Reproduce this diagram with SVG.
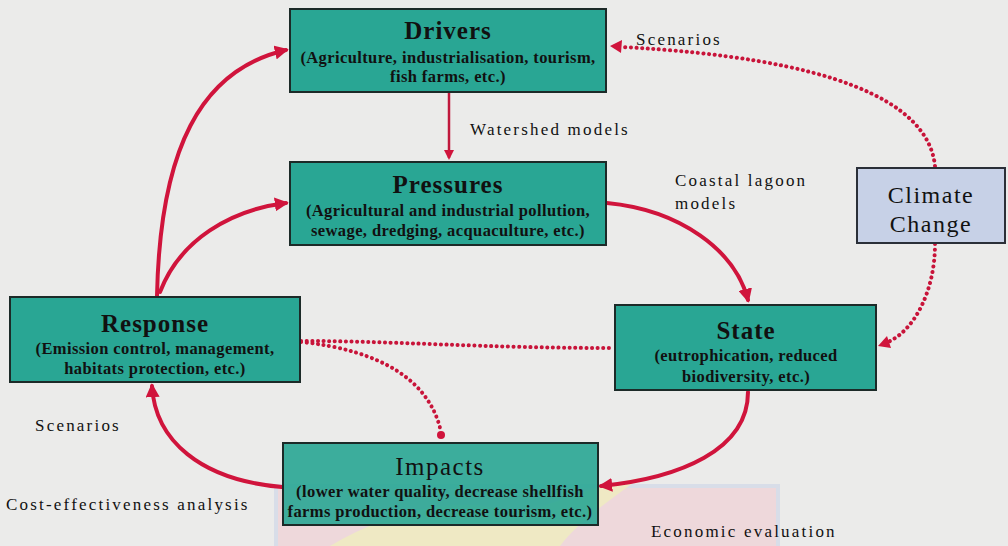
<svg xmlns="http://www.w3.org/2000/svg" width="1008" height="546" viewBox="0 0 1008 546">
  <defs>
    <style>
      .box { fill: #29a694; stroke: #1c2a28; stroke-width: 2; }
      .cc { fill: #c7d1e7; stroke: #2a2f38; stroke-width: 2; }
      text { font-family: "Liberation Serif", "Times New Roman", "DejaVu Serif", serif; }
      .title { font-weight: bold; font-size: 25px; fill: #111; text-anchor: middle; letter-spacing: 1px; }
      .sub { font-weight: bold; font-size: 16.5px; fill: #111; text-anchor: middle; letter-spacing: 0.4px; }
      .cctext { font-size: 24px; fill: #111; text-anchor: middle; letter-spacing: 1.5px; }
      .lbl { font-size: 17px; fill: #111; letter-spacing: 2.2px; }
      .solid { fill: none; stroke: #d0143c; stroke-width: 4; stroke-linecap: round; }
      .thin { fill: none; stroke: #c0183c; stroke-width: 2.5; }
      .dot { fill: none; stroke: #c8143a; stroke-width: 4; stroke-dasharray: 0.1 5.5; stroke-linecap: round; }
    </style>
    <marker id="head" viewBox="0 0 10 10" refX="8" refY="5" markerWidth="4" markerHeight="4" orient="auto">
      <path d="M0,0 L10,5 L0,10 z" fill="#d0143c"/>
    </marker>
    <marker id="headBig" viewBox="0 0 10 10" refX="8" refY="5" markerWidth="3.5" markerHeight="3.5" orient="auto">
      <path d="M0,0 L10,5 L0,10 z" fill="#d0143c"/>
    </marker>
  </defs>

  <!-- page background -->
  <rect width="1008" height="546" fill="#ebebea"/>

  <!-- faint emblem behind the lower area -->
  <g opacity="0.55">
    <rect x="276" y="486" width="502" height="62" fill="#f1c9cf" stroke="#c9d3e8" stroke-width="4"/>
    <path d="M330,546 C400,505 470,495 520,515 C560,500 600,485 640,478 C610,500 580,520 560,546 Z" fill="#f3e9a6"/>
  </g>

  <!-- connectors -->
  <g id="connectors">
    <line class="thin" x1="449" y1="93" x2="449" y2="158" marker-end="url(#head)"/>
    <path class="solid" d="M157,296 C160,150 200,70 286,50" marker-end="url(#headBig)"/>
    <path class="solid" d="M160,292 C180,240 230,210 286,203" marker-end="url(#headBig)"/>
    <path class="solid" d="M607,203 C680,210 735,250 748,300" marker-end="url(#headBig)"/>
    <path class="solid" d="M748,392 C748,450 680,478 601,486" marker-end="url(#headBig)"/>
    <path class="solid" d="M282,487 C200,480 155,440 152,386" marker-end="url(#headBig)"/>
    <path class="dot" d="M301,341 C400,341 480,348 612,348"/>
    <path class="dot" d="M301,342 C380,350 430,380 441,432"/>
    <circle cx="441" cy="435" r="4" fill="#d0143c"/>
    <path class="dot" d="M935,166 C928,100 830,58 622,47"/>
    <path d="M610,46 L622,40 L621,53 z" fill="#d0143c"/>
    <path class="dot" d="M935,244 C935,290 915,330 888,342"/>
    <path d="M878,346 L887,336 L891,348 z" fill="#d0143c"/>
  </g>

  <!-- nodes -->
  <g id="drivers">
    <rect class="box" x="290" y="9" width="316" height="83"/>
    <text class="title" x="448" y="39">Drivers</text>
    <text class="sub" x="448" y="63">(Agriculture, industrialisation, tourism,</text>
    <text class="sub" x="448" y="82">fish farms, etc.)</text>
  </g>

  <g id="pressures">
    <rect class="box" x="290" y="162" width="316" height="83"/>
    <text class="title" x="448" y="193">Pressures</text>
    <text class="sub" x="448" y="216">(Agricultural and industrial pollution,</text>
    <text class="sub" x="448" y="236">sewage, dredging, acquaculture, etc.)</text>
  </g>

  <g id="response">
    <rect class="box" x="10" y="297" width="290" height="85"/>
    <text class="title" x="155" y="332">Response</text>
    <text class="sub" x="155" y="354">(Emission control, management,</text>
    <text class="sub" x="155" y="374">habitats protection, etc.)</text>
  </g>

  <g id="state">
    <rect class="box" x="615" y="305" width="261" height="85"/>
    <text class="title" x="746" y="339">State</text>
    <text class="sub" x="746" y="361">(eutrophication, reduced</text>
    <text class="sub" x="746" y="382">biodiversity, etc.)</text>
  </g>

  <g id="impacts">
    <rect class="box" x="283" y="443" width="315" height="82" fill-opacity="0.9"/>
    <text class="title" x="440" y="475" style="font-weight:normal;letter-spacing:1.5px">Impacts</text>
    <text class="sub" x="440" y="497">(lower water quality, decrease shellfish</text>
    <text class="sub" x="440" y="517">farms production, decrease tourism, etc.)</text>
  </g>

  <g id="climate">
    <rect class="cc" x="857" y="168" width="148" height="75"/>
    <text class="cctext" x="931" y="203">Climate</text>
    <text class="cctext" x="931" y="232">Change</text>
  </g>

  <!-- connector labels -->
  <g id="labels">
    <text class="lbl" x="636" y="45">Scenarios</text>
    <text class="lbl" x="470" y="135">Watershed models</text>
    <text class="lbl" x="675" y="186">Coastal lagoon</text>
    <text class="lbl" x="675" y="209">models</text>
    <text class="lbl" x="35" y="431">Scenarios</text>
    <text class="lbl" x="6" y="510">Cost-effectiveness analysis</text>
    <text class="lbl" x="651" y="537">Economic evaluation</text>
  </g>
</svg>
